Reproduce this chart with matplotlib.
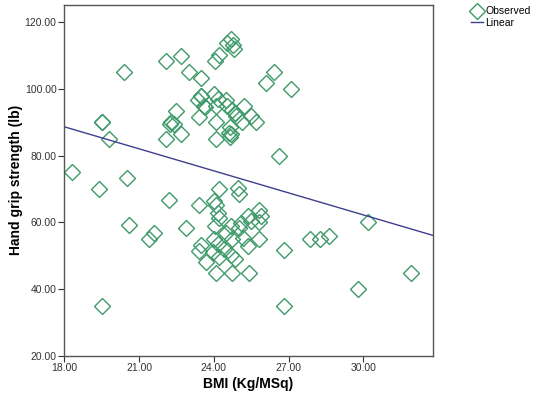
import numpy as np
import matplotlib
matplotlib.use("Agg")
import matplotlib.pyplot as plt
from matplotlib.lines import Line2D

plt.rcParams['font.family'] = ['Liberation Sans', 'DejaVu Sans']

# BMI (Kg/MSq) vs hand grip strength (lb)
bmi = [18.3, 19.4, 19.5, 19.5, 19.8, 20.4, 20.5, 20.6, 21.4, 21.6,
       22.07, 22.07, 22.2, 22.25, 22.3, 22.4, 22.5, 22.7, 22.7, 22.9,
       23.0, 23.35, 23.4, 23.4, 23.4, 23.5, 23.5, 23.5, 23.6, 23.65,
       23.7, 23.95, 24.0, 24.0, 24.0, 24.03, 24.05, 24.07, 24.07, 24.1,
       24.1, 24.1, 24.15, 24.15, 24.15, 24.2, 24.2, 24.2, 24.2, 24.4,
       24.5, 24.5, 24.54, 24.54, 24.6, 24.65, 24.65, 24.7, 24.7, 24.7,
       24.7, 24.73, 24.73, 24.73, 24.75, 24.8, 24.85, 24.85, 24.9, 24.97,
       25.0, 25.0, 25.1, 25.14, 25.15, 25.2, 25.35, 25.38, 25.4, 25.5,
       25.5, 25.7, 25.8, 25.8, 25.82, 25.9, 26.1, 26.4, 26.6, 26.8,
       26.8, 27.1, 27.85, 28.27, 28.6, 29.77, 30.2, 31.9, 19.5, 23.5]
grip = [75.0, 70.0, 90.0, 35.0, 85.0, 105.0, 73.3, 59.2, 54.9, 56.7,
        108.4, 85.0, 66.6, 89.5, 90.0, 89.5, 93.3, 110.0, 86.6, 58.3,
        105.0, 96.8, 91.6, 65.1, 51.4, 103.3, 97.8, 53.1, 95.0, 94.5,
        48.1, 51.2, 98.5, 66.4, 55.1, 108.4, 58.9, 85.0, 44.9, 94.8,
        90.0, 65.1, 97.0, 62.9, 53.4, 110.2, 70.0, 61.4, 49.7, 52.1,
        96.8, 56.9, 113.7, 95.0, 86.8, 88.6, 85.6, 115.0, 58.9, 50.1,
        86.6, 54.9, 44.9, 93.8, 113.3, 111.9, 92.8, 49.1, 92.0, 70.3,
        68.4, 58.4, 59.9, 90.0, 55.3, 95.0, 61.9, 52.9, 44.9, 92.0,
        60.4, 90.0, 63.6, 60.1, 55.1, 61.9, 101.8, 105.0, 80.0, 51.7,
        35.0, 100.0, 55.1, 54.9, 55.8, 40.0, 60.1, 44.9, 90.0, 97.8]

# linear fit line as drawn in the picture
fit_intercept = 128.4
fit_slope = -2.206

x_min, x_max = 18.0, 32.78
y_min, y_max = 20.0, 125.3
xticks = [18, 21, 24, 27, 30]
yticks = [20, 40, 60, 80, 100, 120]

green = '#3e9a68'
navy = '#3f3f8f'
axis_gray = '#555555'

fig = plt.figure(figsize=(5.35, 4.0), dpi=100)
ax = fig.add_axes([0.120, 0.111, 0.689, 0.877])

ax.plot(bmi, grip, linestyle='none', marker='D', markersize=7.8,
        markerfacecolor='none', markeredgecolor=green, markeredgewidth=1.0)

xl = np.array([x_min, x_max])
ax.plot(xl, fit_intercept + fit_slope * xl, color=navy, linewidth=1.0)

ax.set_xlim(x_min, x_max)
ax.set_ylim(y_min, y_max)
ax.set_xticks(xticks)
ax.set_yticks(yticks)
ax.set_xticklabels(['%.2f' % v for v in xticks])
ax.set_yticklabels(['%.2f' % v for v in yticks])
ax.tick_params(axis='both', labelsize=7.5, colors='#333333', length=4,
               width=0.8, direction='out', pad=1.5)
ax.tick_params(axis='x', pad=1)
for s in ax.spines.values():
    s.set_color(axis_gray)
    s.set_linewidth(1.0)

ax.set_xlabel('BMI (Kg/MSq)', fontsize=10, fontweight='bold', labelpad=3)
ax.set_ylabel('Hand grip strength (lb)', fontsize=10, fontweight='bold',
              labelpad=1)

handles = [Line2D([], [], linestyle='none', marker='D', markersize=7.8,
                  markerfacecolor='none', markeredgecolor=green),
           Line2D([], [], color=navy, linewidth=1.0)]
fig.legend(handles, ['Observed', 'Linear'], loc='upper left',
           bbox_to_anchor=(0.872, 0.995), frameon=False, fontsize=7.5,
           handlelength=1.2, handletextpad=0.2, labelspacing=0.15,
           borderaxespad=0)

fig.savefig('out.png', dpi=100)
